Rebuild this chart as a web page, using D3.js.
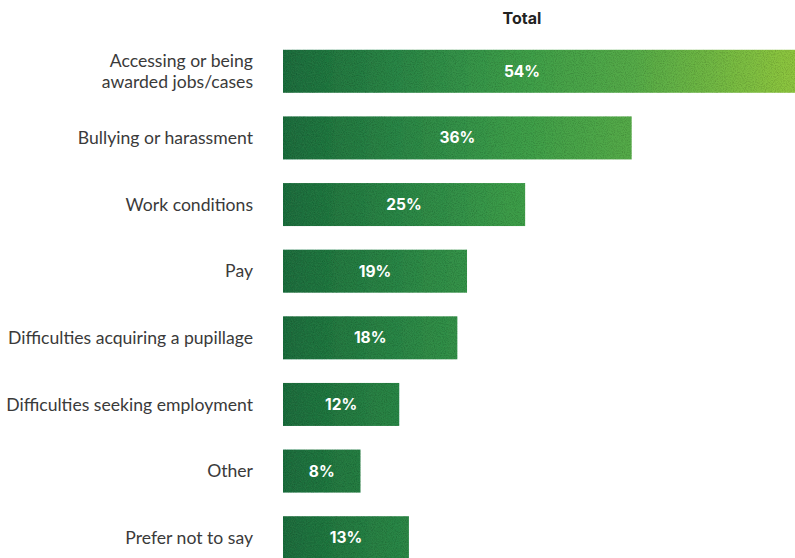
<!DOCTYPE html>
<html><head><meta charset="utf-8">
<script src="https://cdn.jsdelivr.net/npm/d3@7"></script>
<style>
html,body{margin:0;padding:0;background:#fff;}
svg{display:block;}
</style></head>
<body>
<svg id="chart" width="795" height="558"></svg>
<script>
const categories = [
  ["Accessing or being", "awarded jobs/cases"],
  ["Bullying or harassment"],
  ["Work conditions"],
  ["Pay"],
  ["Difficulties acquiring a pupillage"],
  ["Difficulties seeking employment"],
  ["Other"],
  ["Prefer not to say"]
];
const values = [54, 36, 25, 19, 18, 12, 8, 13];
const title = "Total";

const W = 795, H = 558;
const svg = d3.select("#chart");
const x0 = 283, plotRight = 761;
const x = d3.scaleLinear().domain([0, 54]).range([x0, 806]);
const y = d3.scaleBand().domain(d3.range(categories.length)).range([38, 571]).paddingInner(0.355).paddingOuter(0.177);

const defs = svg.append("defs");
const grad = defs.append("linearGradient").attr("id","g").attr("gradientUnits","userSpaceOnUse")
  .attr("x1", x(0)).attr("x2", x(54)).attr("y1",0).attr("y2",0);
[["0%","#1f6e3e"],["22%","#2c8646"],["45%","#3e9e4a"],["67%","#56ab48"],["98%","#8ec640"],["100%","#92c840"]]
  .forEach(([o,c]) => grad.append("stop").attr("offset",o).attr("stop-color",c));

const f = defs.append("filter").attr("id","grain").attr("x",0).attr("y",0).attr("width","100%").attr("height","100%");
f.append("feTurbulence").attr("type","fractalNoise").attr("baseFrequency",0.9).attr("numOctaves",2).attr("seed",3).attr("result","n");
f.append("feColorMatrix").attr("in","n").attr("type","matrix")
  .attr("values","0 0 0 0 0  0 0 0 0 0  0 0 0 0 0  0 0 0 -0.7 0.42").attr("result","a");
f.append("feComposite").attr("in","a").attr("in2","SourceGraphic").attr("operator","in").attr("result","c");
f.append("feMerge").selectAll("feMergeNode").data(["SourceGraphic","c"]).join("feMergeNode").attr("in",d=>d);

svg.append("text").attr("x", (x0 + plotRight)/2).attr("y", 24).attr("text-anchor","middle")
  .attr("font-family","Inter, sans-serif").attr("font-weight",700).attr("font-size",16).attr("fill","#222").text(title);

const g = svg.append("g");
g.selectAll("rect").data(values).join("rect")
  .attr("x", x(0)).attr("y", (d,i)=>y(i)).attr("width", d=>x(d)-x(0)).attr("height", y.bandwidth())
  .attr("fill","url(#g)").attr("filter","url(#grain)");

g.selectAll("text.v").data(values).join("text").attr("class","v")
  .attr("x", d => (x(0) + Math.min(x(d), plotRight))/2)
  .attr("y", (d,i)=>y(i)+y.bandwidth()/2).attr("dy","0.36em").attr("text-anchor","middle")
  .attr("font-family","Inter, sans-serif").attr("font-weight",700).attr("font-size",15.5).attr("fill","#fff")
  .text(d=>d+"%");

const lab = svg.selectAll("text.c").data(categories).join("text").attr("class","c")
  .attr("x", 253).attr("text-anchor","end")
  .attr("font-family","Lato, sans-serif").attr("font-size",17.6).attr("fill","#3a3a3a");
lab.each(function(lines, i){
  const t = d3.select(this);
  const cy = y(i) + y.bandwidth()/2;
  const lh = 21;
  lines.forEach((s, k) => {
    t.append("tspan").attr("x",253).attr("y", cy + (k - (lines.length-1)/2)*lh).attr("dy","0.35em").text(s);
  });
});
</script>
</body></html>
